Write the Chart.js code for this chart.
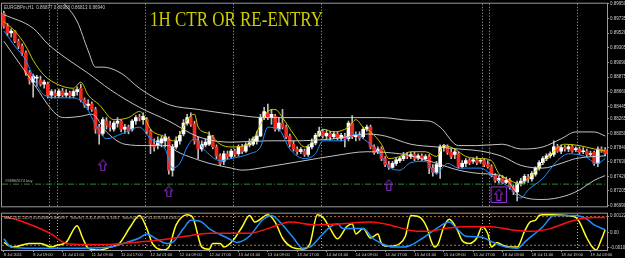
<!DOCTYPE html>
<html>
<head>
<meta charset="utf-8">
<script src="https://cdn.jsdelivr.net/npm/chart.js@4.4.0/dist/chart.umd.min.js"></script>
<style>
  html, body { margin: 0; padding: 0; background: #000; }
  #wrap { position: relative; width: 625px; height: 258px; overflow: hidden; background: #000; }
  #price { position: absolute; left: 0; top: 0; }
  #osc { position: absolute; left: 0; top: 210px; }
</style>
</head>
<body>
<div id="wrap">
  <canvas id="price" width="625" height="210"></canvas>
  <canvas id="osc" width="625" height="48"></canvas>
</div>
<script>
const symbolInfo = 'EURGBPm,H1  0.86877 0.86988 0.86813 0.86940';
const chartTitle = '1H CTR OR RE-ENTRY';
const buyLabel = '#98862674 buy';
const macdInfo = 'MACD(12,26,9) 0.000386 0.000997   Stoch(7,3,3) 4.0991 6.1661   Stoch(14,3,3) 31.6202 48.1300';

// candles, prices in pips (0.0001)
const opens = [
  8981, 8962, 8952, 8955, 8940, 8933, 8923, 8894, 8880, 8886,
  8883, 8877, 8877, 8861, 8864, 8860, 8867, 8861, 8864, 8860,
  8866, 8871, 8854, 8846, 8848, 8840, 8814, 8805, 8823, 8817,
  8811, 8820, 8823, 8811, 8814, 8811, 8823, 8828, 8825, 8825,
  8808, 8789, 8788, 8791, 8794, 8797, 8751, 8785, 8794, 8804,
  8820, 8828, 8818, 8794, 8782, 8788, 8789, 8800, 8785, 8772,
  8764, 8775, 8771, 8779, 8775, 8785, 8779, 8788, 8789, 8794,
  8801, 8828, 8835, 8828, 8830, 8811, 8820, 8814, 8801, 8789,
  8782, 8778, 8779, 8774, 8785, 8791, 8802, 8808, 8801, 8805,
  8800, 8804, 8798, 8801, 8797, 8820, 8800, 8802, 8800, 8811,
  8814, 8785, 8779, 8782, 8768, 8759, 8755, 8761, 8765, 8768,
  8772, 8771, 8774, 8769, 8772, 8768, 8771, 8754, 8748, 8756,
  8784, 8785, 8777, 8774, 8775, 8756, 8761, 8765, 8764, 8766,
  8764, 8765, 8759, 8756, 8743, 8736, 8739, 8733, 8736, 8726,
  8719, 8731, 8735, 8741, 8738, 8745, 8754, 8762, 8768, 8772,
  8774, 8785, 8779, 8784, 8782, 8785, 8781, 8782, 8778, 8779,
  8774, 8777, 8761, 8782, 8781
];
const closes = [
  8962, 8952, 8955, 8940, 8933, 8923, 8894, 8883, 8889, 8887,
  8877, 8880, 8861, 8866, 8860, 8867, 8861, 8864, 8860, 8866,
  8869, 8854, 8846, 8848, 8840, 8811, 8804, 8825, 8817, 8814,
  8820, 8823, 8811, 8814, 8808, 8823, 8828, 8827, 8830, 8808,
  8789, 8785, 8794, 8797, 8800, 8751, 8785, 8794, 8802, 8820,
  8828, 8818, 8794, 8782, 8789, 8792, 8801, 8785, 8772, 8761,
  8775, 8771, 8779, 8774, 8785, 8778, 8788, 8791, 8797, 8801,
  8828, 8837, 8828, 8833, 8811, 8820, 8814, 8800, 8789, 8782,
  8778, 8781, 8774, 8785, 8791, 8802, 8808, 8801, 8805, 8800,
  8804, 8798, 8802, 8797, 8820, 8800, 8802, 8798, 8811, 8814,
  8785, 8777, 8782, 8768, 8759, 8755, 8761, 8766, 8768, 8772,
  8771, 8774, 8768, 8772, 8768, 8771, 8754, 8748, 8759, 8785,
  8787, 8777, 8771, 8778, 8756, 8761, 8765, 8762, 8766, 8762,
  8765, 8759, 8756, 8743, 8736, 8739, 8733, 8736, 8726, 8719,
  8732, 8735, 8742, 8738, 8746, 8754, 8762, 8768, 8772, 8775,
  8785, 8779, 8784, 8782, 8785, 8779, 8782, 8777, 8779, 8774,
  8775, 8761, 8782, 8779, 8775
];
const highs = [
  8984, 8966, 8958, 8956, 8943, 8936, 8926, 8897, 8892, 8890,
  8889, 8883, 8880, 8869, 8869, 8870, 8871, 8869, 8867, 8869,
  8873, 8877, 8857, 8854, 8851, 8843, 8818, 8828, 8828, 8823,
  8823, 8828, 8825, 8818, 8817, 8825, 8831, 8833, 8835, 8828,
  8811, 8797, 8800, 8801, 8804, 8800, 8789, 8800, 8808, 8825,
  8833, 8835, 8823, 8800, 8794, 8797, 8807, 8802, 8788, 8775,
  8779, 8779, 8782, 8782, 8788, 8789, 8791, 8797, 8800, 8808,
  8833, 8843, 8848, 8840, 8833, 8828, 8840, 8817, 8804, 8794,
  8785, 8784, 8782, 8788, 8797, 8805, 8814, 8811, 8810, 8808,
  8808, 8807, 8805, 8805, 8823, 8831, 8807, 8807, 8814, 8817,
  8817, 8788, 8785, 8785, 8771, 8764, 8764, 8769, 8771, 8777,
  8777, 8777, 8777, 8775, 8775, 8774, 8774, 8759, 8764, 8788,
  8789, 8788, 8782, 8782, 8778, 8765, 8768, 8768, 8769, 8771,
  8768, 8768, 8765, 8759, 8746, 8742, 8743, 8741, 8739, 8729,
  8735, 8739, 8745, 8745, 8749, 8756, 8765, 8771, 8775, 8778,
  8794, 8789, 8788, 8787, 8788, 8788, 8785, 8785, 8784, 8782,
  8779, 8779, 8785, 8785, 8784
];
const lows = [
  8959, 8948, 8946, 8938, 8929, 8919, 8890, 8877, 8858, 8874,
  8874, 8871, 8857, 8856, 8857, 8857, 8858, 8858, 8857, 8857,
  8861, 8851, 8843, 8840, 8837, 8805, 8789, 8802, 8811, 8808,
  8808, 8814, 8807, 8805, 8804, 8808, 8818, 8823, 8818, 8804,
  8775, 8779, 8782, 8785, 8785, 8745, 8742, 8782, 8789, 8801,
  8817, 8815, 8789, 8768, 8779, 8785, 8787, 8782, 8768, 8758,
  8759, 8768, 8768, 8771, 8772, 8775, 8777, 8785, 8787, 8789,
  8800, 8825, 8825, 8818, 8808, 8808, 8811, 8797, 8785, 8779,
  8774, 8775, 8771, 8771, 8782, 8788, 8800, 8798, 8797, 8795,
  8797, 8795, 8794, 8785, 8794, 8797, 8794, 8795, 8797, 8808,
  8782, 8774, 8775, 8765, 8756, 8752, 8754, 8758, 8762, 8765,
  8768, 8768, 8765, 8766, 8765, 8765, 8746, 8742, 8745, 8739,
  8779, 8774, 8768, 8768, 8754, 8754, 8756, 8759, 8761, 8759,
  8761, 8756, 8754, 8741, 8733, 8732, 8731, 8731, 8723, 8715,
  8706, 8728, 8731, 8733, 8735, 8742, 8751, 8759, 8765, 8769,
  8771, 8777, 8775, 8779, 8778, 8777, 8778, 8774, 8775, 8771,
  8771, 8758, 8756, 8777, 8772
];

const priceTicks = [0.89950, 0.89735, 0.89520, 0.89305, 0.89090, 0.88875, 0.88660, 0.88445,
  0.88265, 0.88050, 0.87840, 0.87630, 0.87420, 0.87205, 0.86990];
const dateLabels = ['8 Jul 2011', '8 Jul 19:00', '11 Jul 01:00', '11 Jul 09:00', '11 Jul 17:00',
  '12 Jul 01:00', '12 Jul 09:00', '12 Jul 17:00', '13 Jul 01:00', '13 Jul 09:00', '13 Jul 17:00',
  '14 Jul 01:00', '14 Jul 09:00', '14 Jul 17:00', '15 Jul 01:00', '15 Jul 09:00', '15 Jul 17:00',
  '18 Jul 03:00', '18 Jul 11:00', '18 Jul 19:00', '19 Jul 03:00'];
const barsPerLabel = 8;
const separatorBars = [12.5, 14.5, 38.5, 62.5, 86.5, 130.5, 132.5, 156.5];

// overlay lines: [bar, pips]
const upperBand = [[14,9012],[16,8998],[20,8969],[23,8926],[25,8902],[27,8902],[32,8893],[37,8871],[45,8847],
  [53,8840],[62,8833],[71,8828],[81,8828],[92,8828],[103,8828],[111,8824],[116,8823],[119,8814],[124,8787],
  [129,8787],[136,8789],[141,8782],[147,8785],[152,8797],[156,8807],[161,8807],[164,8801]];
const middleBand = [[0,8979],[8,8959],[12,8936],[17,8915],[23,8893],[29,8869],[37,8843],[45,8823],[53,8800],
  [62,8792],[72,8794],[79,8794],[90,8797],[99,8804],[104,8801],[111,8789],[118,8785],[124,8782],[130,8779],
  [136,8771],[141,8758],[147,8754],[152,8761],[156,8768],[164,8772]];
const lowerBand = [[0,8940],[9,8871],[12,8847],[15,8830],[17,8828],[21,8830],[24,8833],[28,8807],[33,8789],
  [39,8787],[45,8787],[47,8779],[52,8768],[56,8761],[62,8754],[65,8751],[72,8756],[81,8764],[90,8772],
  [99,8778],[108,8775],[111,8772],[118,8761],[124,8751],[130,8746],[136,8742],[141,8713],[147,8708],
  [153,8713],[157,8722],[161,8736],[164,8743]];
const fastMa = [[0,8969],[3,8955],[6,8933],[8,8912],[11,8890],[15,8876],[19,8871],[21,8880],[23,8861],
  [26,8847],[30,8825],[34,8828],[37,8837],[38,8833],[40,8811],[44,8800],[46,8794],[48,8804],[50,8825],
  [52,8833],[53,8814],[56,8804],[59,8789],[62,8785],[67,8789],[70,8818],[72,8837],[74,8840],[76,8828],
  [79,8804],[82,8785],[85,8797],[87,8811],[90,8807],[94,8814],[96,8825],[98,8814],[100,8807],[103,8789],
  [105,8768],[108,8771],[111,8778],[115,8778],[118,8771],[120,8787],[123,8782],[126,8771],[130,8768],
  [133,8765],[135,8746],[138,8736],[141,8731],[143,8739],[147,8761],[150,8779],[153,8789],[157,8787],
  [161,8782],[164,8779]];
const slowMa = [[0,8955],[3,8933],[6,8912],[9,8876],[11,8861],[15,8857],[19,8857],[22,8847],[25,8818],
  [28,8797],[32,8804],[37,8814],[40,8797],[44,8782],[46,8754],[48,8761],[50,8785],[52,8797],[55,8779],
  [59,8765],[62,8768],[67,8775],[70,8785],[72,8814],[75,8811],[78,8782],[82,8768],[85,8775],[87,8794],
  [92,8794],[96,8804],[98,8797],[102,8779],[105,8756],[108,8751],[111,8762],[115,8764],[118,8746],
  [121,8761],[124,8754],[130,8754],[134,8739],[138,8725],[141,8710],[143,8722],[147,8739],[151,8765],
  [154,8775],[158,8772],[162,8761],[164,8768]];
const buyLevel = 8730.5;
const arrowBars = [27, 45, 105, 135];
const arrowPrices = [8758, 8720, 8729, 8715];
const selectedArrow = 3;

// oscillator window
const macdSignal = [[0,0.00120],[4,0.00092],[13,-0.00009],[17,-0.00077],[22,-0.00084],[29,-0.00084],
  [35,-0.00071],[43,-0.00050],[50,-0.00023],[56,-0.00003],[67,-0.00003],[72,0.00031],[78,0.00079],
  [85,0.00058],[91,0.00065],[100,0.00079],[104,0.00065],[109,0.00031],[111,0.00018],[116,0.00011],
  [120,0.00031],[125,0.00045],[133,0.00045],[138,0.00024],[144,0.00011],[149,0.00031],[154,0.00079],
  [158,0.00106],[161,0.00113],[164,0.00113]];
const stochMain = [[0,21],[2.5,8],[7,18],[10,18],[13,8],[14.5,13],[17,21],[20,67],[21.5,33],[23,5],[26,0],
  [29,8],[31.5,18],[34.5,64],[37,95],[39,59],[40.5,18],[43.5,0],[45,8],[47,69],[50,97],[51.5,90],[54,8],
  [56,2],[57,18],[59,18],[60,8],[62.5,26],[65,64],[67,95],[68.5,77],[72,97],[74,77],[76,33],[78.5,8],
  [81.5,3],[83.5,18],[85.5,97],[87,90],[89,59],[91,31],[93.5,64],[95,72],[96,44],[98,59],[100,33],
  [102,44],[103,18],[105,10],[108,18],[109.5,38],[111,95],[113.5,90],[115.5,59],[116.5,26],[117.5,8],
  [118.5,18],[120,64],[121.5,85],[123.5,59],[125,26],[127,18],[129,33],[130.5,64],[132,44],[133,8],
  [134.5,21],[136,13],[138,8],[140,8],[142,51],[143.5,77],[145,82],[146,95],[147,97],[150,97],[153.5,95],
  [156,90],[157,77],[159,33],[160.5,8],[161.5,0],[163,30],[164,56]];
const stochSignal = [[0,31],[2,8],[6,5],[13,5],[21.5,5],[29,8],[33.5,21],[37,33],[39,44],[41.5,31],
  [44.5,18],[46,21],[49,59],[51,82],[54,77],[56,59],[61,33],[63.5,21],[67,38],[70.5,82],[73,95],[76,69],
  [79,33],[81.5,5],[83.5,8],[86,33],[89,64],[91,72],[92.5,59],[95,59],[98,59],[100.5,33],[103,18],
  [106,8],[109,8],[111,13],[114,31],[118,59],[121.5,77],[123.5,59],[126,38],[130,36],[133.5,21],[137,8],
  [140,5],[142.5,26],[147,64],[150,95],[153.5,95],[156,95],[159,85],[161,69],[164,56]];
const stochLevels = [92, 13];
const macdTicks = [0.00122, 0, -0.00108];

const pip = v => v / 10000;
const first = -0.5, last = opens.length - 0.5;
const linePts = arr => arr.map(([x, y]) => ({ x, y: pip(y) }));
const rawPts = arr => arr.map(([x, y]) => ({ x, y }));
const flat = v => [{ x: first, y: v }, { x: last, y: v }];

const bodies = opens.map((o, i) => ({ x: i, y: [pip(o), pip(closes[i])] }));
const wicks = highs.map((h, i) => ({ x: i, y: [pip(lows[i]), pip(h)] }));
const bodyColors = opens.map((o, i) => closes[i] >= o ? '#ffffff' : '#f02a1c');

const arrowSprite = document.createElement('canvas');
arrowSprite.width = 9; arrowSprite.height = 12;
const ac = arrowSprite.getContext('2d');
ac.strokeStyle = '#9b30d9';
ac.lineWidth = 1;
ac.beginPath();
ac.moveTo(4.5, 0.5); ac.lineTo(8.5, 5.5); ac.lineTo(6.5, 5.5); ac.lineTo(6.5, 11.5);
ac.lineTo(2.5, 11.5); ac.lineTo(2.5, 5.5); ac.lineTo(0.5, 5.5); ac.closePath();
ac.stroke();

const tickFont = { family: 'Liberation Sans', size: 4.5 };
const gray = '#9a9a9a';
const sepGray = '#b4b4b4';

const frame = {
  id: 'frame',
  afterDraw(chart) {
    const { ctx, chartArea: a } = chart;
    ctx.save();
    ctx.strokeStyle = gray;
    ctx.lineWidth = 1;
    ctx.strokeRect(a.left - 0.5, a.top - 0.5, a.right - a.left + 1, a.bottom - a.top + 1);
    ctx.restore();
  }
};

const priceTexts = {
  id: 'priceTexts',
  afterDraw(chart) {
    const { ctx, chartArea: a, scales } = chart;
    ctx.save();
    ctx.font = '4.5px "Liberation Sans"';
    ctx.fillStyle = '#c8c8c8';
    ctx.textBaseline = 'alphabetic';
    ctx.fillText(symbolInfo, a.left + 2, a.top + 5);
    const by = scales.y.getPixelForValue(pip(buyLevel));
    ctx.font = '4px "Liberation Sans"';
    ctx.fillStyle = '#b4b4b4';
    ctx.fillText(buyLabel, a.left + 3, by - 2);
    ctx.font = '20px "Liberation Serif"';
    ctx.fillStyle = '#cccc00';
    ctx.fillText(chartTitle, a.left + 148, a.top + 22, 173);
    ctx.restore();
  }
};

const oscTexts = {
  id: 'oscTexts',
  afterDraw(chart) {
    const { ctx, chartArea: a } = chart;
    ctx.save();
    ctx.font = '4px "Liberation Sans"';
    ctx.fillStyle = '#b4b4b4';
    ctx.fillText(macdInfo, a.left + 2, a.top + 5);
    ctx.restore();
  }
};

const lineDs = (data, color, width, extra) => Object.assign({
  type: 'line', data, borderColor: color, borderWidth: width, pointRadius: 0,
  cubicInterpolationMode: 'monotone', fill: false, order: 2
}, extra || {});

new Chart(document.getElementById('price'), {
  type: 'bar',
  data: {
    datasets: [
      { data: wicks, backgroundColor: '#bdbdbd', barThickness: 1, grouped: false, order: 12 },
      { data: bodies, backgroundColor: bodyColors, barThickness: 3, minBarLength: 1, grouped: false, order: 11 },
      lineDs(linePts(upperBand), 'rgba(215,215,215,0.9)', 1),
      lineDs(linePts(middleBand), 'rgba(215,215,215,0.9)', 1),
      lineDs(linePts(lowerBand), 'rgba(215,215,215,0.9)', 1),
      lineDs(linePts(fastMa), '#c8c800', 1, { order: 1 }),
      lineDs(linePts(slowMa), '#1f8fff', 1, { order: 1 }),
      lineDs(flat(pip(buyLevel)), '#2e8b2e', 1, { borderDash: [6, 2, 1, 2] }),
      {
        type: 'line', showLine: false, order: 0,
        data: arrowBars.map((b, k) => ({ x: b, y: pip(arrowPrices[k]) })),
        pointStyle: arrowSprite, pointRadius: 5
      },
      {
        type: 'line', showLine: false, order: 0,
        data: [{ x: arrowBars[selectedArrow], y: pip(arrowPrices[selectedArrow]) }],
        pointStyle: 'rect', pointRadius: 11, pointBorderColor: '#9b30d9',
        pointBackgroundColor: 'rgba(0,0,0,0)', pointBorderWidth: 1
      }
    ]
  },
  options: {
    responsive: false, animation: false, devicePixelRatio: 1,
    layout: { autoPadding: false, padding: { top: 2, left: 2, right: 0, bottom: 1 } },
    plugins: { legend: { display: false }, tooltip: { enabled: false } },
    events: [],
    scales: {
      x: {
        type: 'linear', min: first, max: last, offset: false,
        afterBuildTicks: s => { s.ticks = separatorBars.map(v => ({ value: v })); },
        afterFit: s => { s.height = 0; },
        ticks: { display: false },
        grid: { offset: false, color: sepGray, drawTicks: false },
        border: { display: false, dash: [1, 2] }
      },
      y: {
        position: 'right', min: 0.86980, max: 0.89950, beginAtZero: false,
        afterBuildTicks: s => { s.ticks = priceTicks.map(v => ({ value: v })); },
        afterFit: s => { s.width = 18; },
        ticks: { color: '#cfcfcf', font: tickFont, padding: 1, callback: v => v.toFixed(5) },
        grid: { drawOnChartArea: false, color: gray, tickLength: 2 },
        border: { color: gray }
      }
    }
  },
  plugins: [frame, priceTexts]
});

new Chart(document.getElementById('osc'), {
  type: 'line',
  data: {
    datasets: [
      lineDs(flat(stochLevels[0]), '#b0703a', 1, { yAxisID: 'ys', borderDash: [2, 2], order: 5 }),
      lineDs(flat(stochLevels[1]), '#b0703a', 1, { yAxisID: 'ys', borderDash: [2, 2], order: 5 }),
      lineDs(rawPts(macdSignal), '#ff1010', 1.5, { yAxisID: 'y' }),
      lineDs(rawPts(stochSignal), '#1f8fff', 1.5, { yAxisID: 'ys' }),
      lineDs(rawPts(stochMain), '#ffff20', 1.5, { yAxisID: 'ys' })
    ]
  },
  options: {
    responsive: false, animation: false, devicePixelRatio: 1,
    layout: { autoPadding: false, padding: { top: 2, left: 2, right: 0, bottom: 0 } },
    plugins: { legend: { display: false }, tooltip: { enabled: false } },
    events: [],
    scales: {
      x: {
        type: 'linear', min: first, max: last, offset: false,
        afterBuildTicks: s => { s.ticks = dateLabels.map((_, k) => ({ value: k * barsPerLabel })); },
        afterFit: s => { s.height = 8; },
        ticks: {
          color: '#cfcfcf', font: { family: 'Liberation Sans', size: 4 }, padding: 0,
          align: 'start', maxRotation: 0, autoSkip: false,
          callback: (v, k) => dateLabels[k]
        },
        grid: { offset: false, drawOnChartArea: false, color: gray, tickLength: 2 },
        border: { color: gray }
      },
      xs: {
        type: 'linear', position: 'top', min: first, max: last, offset: false,
        afterBuildTicks: s => { s.ticks = separatorBars.map(v => ({ value: v })); },
        afterFit: s => { s.height = 0; },
        ticks: { display: false },
        grid: { offset: false, color: sepGray, drawTicks: false },
        border: { display: false, dash: [1, 2] }
      },
      y: {
        position: 'right', min: -0.00125, max: 0.00140,
        afterBuildTicks: s => { s.ticks = macdTicks.map(v => ({ value: v })); },
        afterFit: s => { s.width = 18; },
        ticks: { color: '#cfcfcf', font: tickFont, padding: 1,
          callback: v => (v === 0 ? '0.00' : v.toFixed(5)) },
        grid: { drawOnChartArea: false, color: gray, tickLength: 2 },
        border: { color: gray }
      },
      ys: { display: false, min: 0, max: 100 }
    }
  },
  plugins: [frame, oscTexts]
});
</script>
</body>
</html>
